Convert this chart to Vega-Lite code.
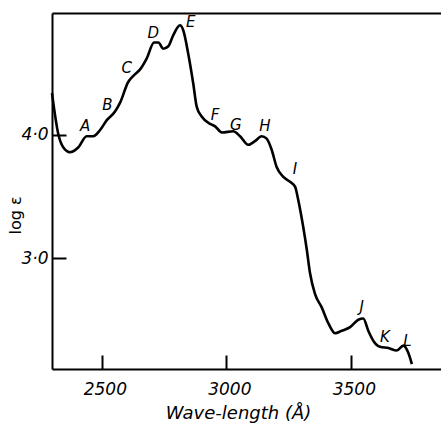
{
  "$schema": "https://vega.github.io/schema/vega-lite/v6.json",
  "width": 389,
  "height": 356,
  "autosize": {"type": "none"},
  "padding": {"left": 52, "top": 13, "right": 0, "bottom": 57},
  "background": "white",
  "config": {"view": {"stroke": null}, "font": "DejaVu Sans"},
  "datasets": {
    "curve": [
      {"wavelength": 2300, "loge": 4.34},
      {"wavelength": 2325, "loge": 4.01},
      {"wavelength": 2345, "loge": 3.9},
      {"wavelength": 2372, "loge": 3.86},
      {"wavelength": 2406, "loge": 3.9},
      {"wavelength": 2439, "loge": 3.99},
      {"wavelength": 2466, "loge": 3.99},
      {"wavelength": 2493, "loge": 4.04},
      {"wavelength": 2520, "loge": 4.12},
      {"wavelength": 2553, "loge": 4.19},
      {"wavelength": 2573, "loge": 4.26},
      {"wavelength": 2606, "loge": 4.43},
      {"wavelength": 2627, "loge": 4.48},
      {"wavelength": 2653, "loge": 4.53},
      {"wavelength": 2680, "loge": 4.62},
      {"wavelength": 2710, "loge": 4.75},
      {"wavelength": 2727, "loge": 4.75},
      {"wavelength": 2747, "loge": 4.7},
      {"wavelength": 2767, "loge": 4.72},
      {"wavelength": 2787, "loge": 4.81},
      {"wavelength": 2814, "loge": 4.89},
      {"wavelength": 2827, "loge": 4.85},
      {"wavelength": 2847, "loge": 4.66},
      {"wavelength": 2867, "loge": 4.42},
      {"wavelength": 2881, "loge": 4.23},
      {"wavelength": 2901, "loge": 4.15},
      {"wavelength": 2935, "loge": 4.09},
      {"wavelength": 2955, "loge": 4.07},
      {"wavelength": 2982, "loge": 4.02},
      {"wavelength": 3028, "loge": 4.03},
      {"wavelength": 3055, "loge": 3.99},
      {"wavelength": 3088, "loge": 3.92},
      {"wavelength": 3115, "loge": 3.95},
      {"wavelength": 3142, "loge": 3.99},
      {"wavelength": 3162, "loge": 3.97},
      {"wavelength": 3182, "loge": 3.88},
      {"wavelength": 3202, "loge": 3.74},
      {"wavelength": 3229, "loge": 3.66},
      {"wavelength": 3256, "loge": 3.62},
      {"wavelength": 3276, "loge": 3.58},
      {"wavelength": 3289, "loge": 3.47},
      {"wavelength": 3309, "loge": 3.25},
      {"wavelength": 3323, "loge": 3.07},
      {"wavelength": 3336, "loge": 2.88},
      {"wavelength": 3356, "loge": 2.71},
      {"wavelength": 3383, "loge": 2.6},
      {"wavelength": 3410, "loge": 2.47},
      {"wavelength": 3437, "loge": 2.39},
      {"wavelength": 3463, "loge": 2.41},
      {"wavelength": 3497, "loge": 2.44},
      {"wavelength": 3530, "loge": 2.5},
      {"wavelength": 3550, "loge": 2.51},
      {"wavelength": 3570, "loge": 2.41},
      {"wavelength": 3590, "loge": 2.33},
      {"wavelength": 3617, "loge": 2.28},
      {"wavelength": 3651, "loge": 2.27},
      {"wavelength": 3684, "loge": 2.25},
      {"wavelength": 3711, "loge": 2.29},
      {"wavelength": 3731, "loge": 2.23},
      {"wavelength": 3745, "loge": 2.14}
    ],
    "labels": [
      {"label": "A", "wavelength": 2433, "loge": 4.07},
      {"label": "B", "wavelength": 2522, "loge": 4.24},
      {"label": "C", "wavelength": 2600, "loge": 4.54},
      {"label": "D", "wavelength": 2707, "loge": 4.83},
      {"label": "E", "wavelength": 2857, "loge": 4.92},
      {"label": "F", "wavelength": 2955, "loge": 4.16},
      {"label": "G", "wavelength": 3038, "loge": 4.08},
      {"label": "H", "wavelength": 3155, "loge": 4.07},
      {"label": "I", "wavelength": 3276, "loge": 3.72},
      {"label": "J", "wavelength": 3544, "loge": 2.6},
      {"label": "K", "wavelength": 3637, "loge": 2.36},
      {"label": "L", "wavelength": 3727, "loge": 2.33}
    ]
  },
  "layer": [
    {
      "data": {"name": "curve"},
      "mark": {"type": "line", "color": "black", "strokeWidth": 2.6, "interpolate": "monotone"},
      "encoding": {
        "x": {
          "field": "wavelength", "type": "quantitative",
          "scale": {"domain": [2300, 3862], "nice": false, "zero": false},
          "axis": {
            "values": [2500, 3000, 3500], "format": "d", "grid": false,
            "domainColor": "black", "domainWidth": 2,
            "tickColor": "black", "tickWidth": 2, "tickSize": -14,
            "labelFont": "DejaVu Sans", "labelFontStyle": "italic", "labelFontSize": 17, "labelColor": "black",
            "labelPadding": 34, "labelBaseline": "middle", "labelOffset": 3,
            "title": "Wave-length (Å)", "titleFont": "DejaVu Sans", "titleFontStyle": "italic", "titleFontWeight": "normal",
            "titleFontSize": 18, "titleColor": "black", "titleX": 186, "titleY": 44, "titleBaseline": "middle", "titleAlign": "center"
          }
        },
        "y": {
          "field": "loge", "type": "quantitative",
          "scale": {"domain": [2.1, 4.99], "nice": false, "zero": false},
          "axis": {
            "values": [3, 4], "format": ".1f", "labelExpr": "replace(datum.label, '.', '·')", "grid": false,
            "domainColor": "black", "domainWidth": 2,
            "tickColor": "black", "tickWidth": 2, "tickSize": -14,
            "labelFont": "DejaVu Sans", "labelFontStyle": "italic", "labelFontSize": 17, "labelColor": "black",
            "labelPadding": 18,
            "title": "log ε", "titleFont": "DejaVu Sans", "titleFontStyle": "normal", "titleFontWeight": "normal",
            "titleFontSize": 16, "titleColor": "black", "titleX": -37, "titleY": 202, "titleBaseline": "middle", "titleAlign": "center", "titleAngle": -90
          }
        }
      }
    },
    {
      "data": {"name": "labels"},
      "mark": {"type": "text", "fontStyle": "italic", "fontSize": 15, "color": "black", "font": "DejaVu Sans"},
      "encoding": {
        "x": {
          "field": "wavelength", "type": "quantitative",
          "scale": {"domain": [2300, 3862], "nice": false, "zero": false},
          "axis": {"orient": "top", "ticks": false, "labels": false, "title": null, "grid": false, "domainColor": "black", "domainWidth": 2}
        },
        "y": {"field": "loge", "type": "quantitative"},
        "text": {"field": "label"}
      }
    }
  ],
  "resolve": {"scale": {"x": "independent"}}
}
